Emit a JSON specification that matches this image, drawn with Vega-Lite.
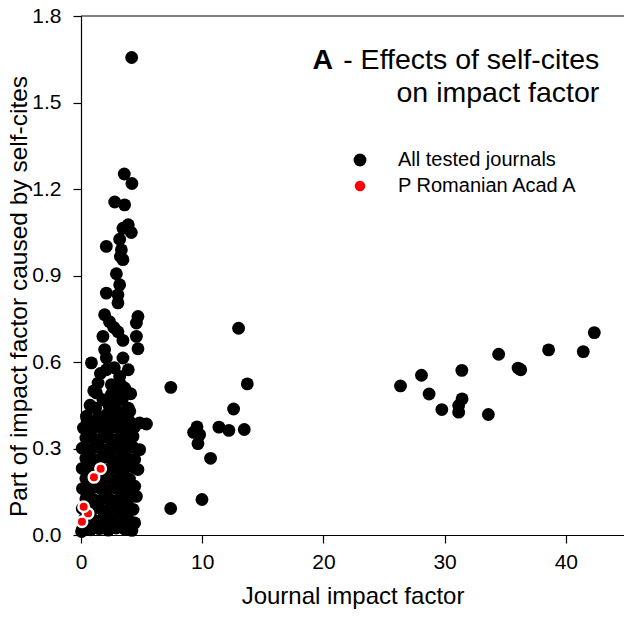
{
  "$schema": "https://vega.github.io/schema/vega-lite/v6.json",
  "autosize": {"type": "none"},
  "width": 543,
  "height": 519,
  "padding": {"left": 81, "top": 16, "right": 0, "bottom": 82},
  "background": "white",
  "config": {
    "view": {"stroke": null},
    "font": "Liberation Sans",
    "axis": {
      "grid": false,
      "domainColor": "black",
      "domainWidth": 1.2,
      "tickColor": "black",
      "tickWidth": 1.2,
      "tickSize": 8,
      "labelFont": "Liberation Sans",
      "labelFontSize": 21,
      "labelColor": "black",
      "labelFlush": false,
      "titleFont": "Liberation Sans",
      "titleFontSize": 24,
      "titleFontWeight": "normal",
      "titleColor": "black"
    },
    "legend": {
      "labelFont": "Liberation Sans",
      "labelFontSize": 20,
      "labelColor": "black",
      "labelLimit": 0,
      "symbolType": "circle",
      "symbolStrokeWidth": 0,
      "labelOffset": 28,
      "rowPadding": 6
    }
  },
  "datasets": {
    "journals": [
      {"IF": 4.18, "SC": 1.656, "group": "All tested journals"},
      {"IF": 3.57, "SC": 1.252, "group": "All tested journals"},
      {"IF": 4.2, "SC": 1.219, "group": "All tested journals"},
      {"IF": 2.78, "SC": 1.155, "group": "All tested journals"},
      {"IF": 3.6, "SC": 1.145, "group": "All tested journals"},
      {"IF": 3.9, "SC": 1.076, "group": "All tested journals"},
      {"IF": 3.46, "SC": 1.064, "group": "All tested journals"},
      {"IF": 4.15, "SC": 1.049, "group": "All tested journals"},
      {"IF": 3.19, "SC": 1.026, "group": "All tested journals"},
      {"IF": 2.09, "SC": 1.001, "group": "All tested journals"},
      {"IF": 3.33, "SC": 0.989, "group": "All tested journals"},
      {"IF": 3.25, "SC": 0.966, "group": "All tested journals"},
      {"IF": 3.46, "SC": 0.955, "group": "All tested journals"},
      {"IF": 2.92, "SC": 0.906, "group": "All tested journals"},
      {"IF": 3.19, "SC": 0.868, "group": "All tested journals"},
      {"IF": 2.09, "SC": 0.839, "group": "All tested journals"},
      {"IF": 3.05, "SC": 0.833, "group": "All tested journals"},
      {"IF": 3.05, "SC": 0.805, "group": "All tested journals"},
      {"IF": 1.95, "SC": 0.764, "group": "All tested journals"},
      {"IF": 2.35, "SC": 0.74, "group": "All tested journals"},
      {"IF": 2.7, "SC": 0.72, "group": "All tested journals"},
      {"IF": 4.7, "SC": 0.758, "group": "All tested journals"},
      {"IF": 4.57, "SC": 0.735, "group": "All tested journals"},
      {"IF": 3.05, "SC": 0.705, "group": "All tested journals"},
      {"IF": 4.57, "SC": 0.689, "group": "All tested journals"},
      {"IF": 1.81, "SC": 0.689, "group": "All tested journals"},
      {"IF": 3.46, "SC": 0.675, "group": "All tested journals"},
      {"IF": 4.7, "SC": 0.646, "group": "All tested journals"},
      {"IF": 1.95, "SC": 0.643, "group": "All tested journals"},
      {"IF": 0.86, "SC": 0.597, "group": "All tested journals"},
      {"IF": 2.09, "SC": 0.614, "group": "All tested journals"},
      {"IF": 3.46, "SC": 0.614, "group": "All tested journals"},
      {"IF": 2.09, "SC": 0.573, "group": "All tested journals"},
      {"IF": 3.9, "SC": 0.573, "group": "All tested journals"},
      {"IF": 3.19, "SC": 0.55, "group": "All tested journals"},
      {"IF": 1.41, "SC": 0.527, "group": "All tested journals"},
      {"IF": 2.5, "SC": 0.521, "group": "All tested journals"},
      {"IF": 3.6, "SC": 0.51, "group": "All tested journals"},
      {"IF": 1.27, "SC": 0.493, "group": "All tested journals"},
      {"IF": 2.5, "SC": 0.487, "group": "All tested journals"},
      {"IF": 1.6, "SC": 0.56, "group": "All tested journals"},
      {"IF": 2.75, "SC": 0.58, "group": "All tested journals"},
      {"IF": 2.85, "SC": 0.5, "group": "All tested journals"},
      {"IF": 3.3, "SC": 0.52, "group": "All tested journals"},
      {"IF": 4.1, "SC": 0.49, "group": "All tested journals"},
      {"IF": 1.05, "SC": 0.5, "group": "All tested journals"},
      {"IF": 0.75, "SC": 0.45, "group": "All tested journals"},
      {"IF": 1.2, "SC": 0.44, "group": "All tested journals"},
      {"IF": 1.81, "SC": 0.469, "group": "All tested journals"},
      {"IF": 2.3, "SC": 0.45, "group": "All tested journals"},
      {"IF": 2.9, "SC": 0.46, "group": "All tested journals"},
      {"IF": 3.4, "SC": 0.47, "group": "All tested journals"},
      {"IF": 3.9, "SC": 0.44, "group": "All tested journals"},
      {"IF": 4.02, "SC": 0.429, "group": "All tested journals"},
      {"IF": 5.4, "SC": 0.385, "group": "All tested journals"},
      {"IF": 4.84, "SC": 0.389, "group": "All tested journals"},
      {"IF": 2.92, "SC": 0.394, "group": "All tested journals"},
      {"IF": 0.45, "SC": 0.412, "group": "All tested journals"},
      {"IF": 3.0, "SC": 0.43, "group": "All tested journals"},
      {"IF": 2.2, "SC": 0.42, "group": "All tested journals"},
      {"IF": 1.5, "SC": 0.41, "group": "All tested journals"},
      {"IF": 3.6, "SC": 0.42, "group": "All tested journals"},
      {"IF": 4.29, "SC": 0.342, "group": "All tested journals"},
      {"IF": 4.84, "SC": 0.296, "group": "All tested journals"},
      {"IF": 4.43, "SC": 0.262, "group": "All tested journals"},
      {"IF": 4.7, "SC": 0.227, "group": "All tested journals"},
      {"IF": 4.43, "SC": 0.169, "group": "All tested journals"},
      {"IF": 4.57, "SC": 0.134, "group": "All tested journals"},
      {"IF": 3.87, "SC": 0.088, "group": "All tested journals"},
      {"IF": 4.43, "SC": 0.042, "group": "All tested journals"},
      {"IF": 3.19, "SC": 0.03, "group": "All tested journals"},
      {"IF": 1.81, "SC": 0.025, "group": "All tested journals"},
      {"IF": 0.45, "SC": 0.019, "group": "All tested journals"},
      {"IF": 0.05, "SC": 0.012, "group": "All tested journals"},
      {"IF": 0.12, "SC": 0.02, "group": "All tested journals"},
      {"IF": 0.8, "SC": 0.018, "group": "All tested journals"},
      {"IF": 1.5, "SC": 0.022, "group": "All tested journals"},
      {"IF": 2.25, "SC": 0.017, "group": "All tested journals"},
      {"IF": 2.9, "SC": 0.024, "group": "All tested journals"},
      {"IF": 3.6, "SC": 0.021, "group": "All tested journals"},
      {"IF": 4.2, "SC": 0.016, "group": "All tested journals"},
      {"IF": 0.3, "SC": 0.057, "group": "All tested journals"},
      {"IF": 1.05, "SC": 0.052, "group": "All tested journals"},
      {"IF": 1.8, "SC": 0.058, "group": "All tested journals"},
      {"IF": 2.5, "SC": 0.053, "group": "All tested journals"},
      {"IF": 3.2, "SC": 0.056, "group": "All tested journals"},
      {"IF": 3.95, "SC": 0.051, "group": "All tested journals"},
      {"IF": 0.1, "SC": 0.092, "group": "All tested journals"},
      {"IF": 0.85, "SC": 0.088, "group": "All tested journals"},
      {"IF": 1.5, "SC": 0.094, "group": "All tested journals"},
      {"IF": 2.2, "SC": 0.087, "group": "All tested journals"},
      {"IF": 2.95, "SC": 0.091, "group": "All tested journals"},
      {"IF": 3.5, "SC": 0.095, "group": "All tested journals"},
      {"IF": 4.3, "SC": 0.089, "group": "All tested journals"},
      {"IF": 0.4, "SC": 0.126, "group": "All tested journals"},
      {"IF": 1.1, "SC": 0.122, "group": "All tested journals"},
      {"IF": 1.85, "SC": 0.128, "group": "All tested journals"},
      {"IF": 2.5, "SC": 0.121, "group": "All tested journals"},
      {"IF": 3.2, "SC": 0.127, "group": "All tested journals"},
      {"IF": 3.9, "SC": 0.124, "group": "All tested journals"},
      {"IF": 0.12, "SC": 0.161, "group": "All tested journals"},
      {"IF": 0.8, "SC": 0.158, "group": "All tested journals"},
      {"IF": 1.55, "SC": 0.163, "group": "All tested journals"},
      {"IF": 2.2, "SC": 0.157, "group": "All tested journals"},
      {"IF": 2.9, "SC": 0.162, "group": "All tested journals"},
      {"IF": 3.6, "SC": 0.159, "group": "All tested journals"},
      {"IF": 4.25, "SC": 0.164, "group": "All tested journals"},
      {"IF": 0.4, "SC": 0.196, "group": "All tested journals"},
      {"IF": 1.15, "SC": 0.193, "group": "All tested journals"},
      {"IF": 1.9, "SC": 0.198, "group": "All tested journals"},
      {"IF": 2.6, "SC": 0.192, "group": "All tested journals"},
      {"IF": 3.3, "SC": 0.197, "group": "All tested journals"},
      {"IF": 4.0, "SC": 0.194, "group": "All tested journals"},
      {"IF": 0.1, "SC": 0.231, "group": "All tested journals"},
      {"IF": 0.8, "SC": 0.228, "group": "All tested journals"},
      {"IF": 1.5, "SC": 0.233, "group": "All tested journals"},
      {"IF": 2.2, "SC": 0.227, "group": "All tested journals"},
      {"IF": 2.9, "SC": 0.232, "group": "All tested journals"},
      {"IF": 3.6, "SC": 0.229, "group": "All tested journals"},
      {"IF": 4.35, "SC": 0.234, "group": "All tested journals"},
      {"IF": 0.4, "SC": 0.266, "group": "All tested journals"},
      {"IF": 1.1, "SC": 0.262, "group": "All tested journals"},
      {"IF": 1.8, "SC": 0.268, "group": "All tested journals"},
      {"IF": 2.5, "SC": 0.263, "group": "All tested journals"},
      {"IF": 3.25, "SC": 0.267, "group": "All tested journals"},
      {"IF": 3.9, "SC": 0.264, "group": "All tested journals"},
      {"IF": 0.1, "SC": 0.301, "group": "All tested journals"},
      {"IF": 0.8, "SC": 0.297, "group": "All tested journals"},
      {"IF": 1.5, "SC": 0.303, "group": "All tested journals"},
      {"IF": 2.2, "SC": 0.298, "group": "All tested journals"},
      {"IF": 2.85, "SC": 0.302, "group": "All tested journals"},
      {"IF": 3.6, "SC": 0.299, "group": "All tested journals"},
      {"IF": 4.3, "SC": 0.304, "group": "All tested journals"},
      {"IF": 0.4, "SC": 0.336, "group": "All tested journals"},
      {"IF": 1.1, "SC": 0.333, "group": "All tested journals"},
      {"IF": 1.8, "SC": 0.338, "group": "All tested journals"},
      {"IF": 2.5, "SC": 0.332, "group": "All tested journals"},
      {"IF": 3.2, "SC": 0.337, "group": "All tested journals"},
      {"IF": 3.9, "SC": 0.334, "group": "All tested journals"},
      {"IF": 0.2, "SC": 0.371, "group": "All tested journals"},
      {"IF": 0.9, "SC": 0.368, "group": "All tested journals"},
      {"IF": 1.6, "SC": 0.373, "group": "All tested journals"},
      {"IF": 2.3, "SC": 0.367, "group": "All tested journals"},
      {"IF": 3.0, "SC": 0.372, "group": "All tested journals"},
      {"IF": 3.7, "SC": 0.369, "group": "All tested journals"},
      {"IF": 4.4, "SC": 0.374, "group": "All tested journals"},
      {"IF": 0.5, "SC": 0.402, "group": "All tested journals"},
      {"IF": 1.2, "SC": 0.398, "group": "All tested journals"},
      {"IF": 1.9, "SC": 0.404, "group": "All tested journals"},
      {"IF": 2.5, "SC": 0.399, "group": "All tested journals"},
      {"IF": 3.3, "SC": 0.403, "group": "All tested journals"},
      {"IF": 3.95, "SC": 0.397, "group": "All tested journals"},
      {"IF": 7.41, "SC": 0.512, "group": "All tested journals"},
      {"IF": 7.4, "SC": 0.092, "group": "All tested journals"},
      {"IF": 13.0, "SC": 0.717, "group": "All tested journals"},
      {"IF": 13.72, "SC": 0.524, "group": "All tested journals"},
      {"IF": 12.59, "SC": 0.437, "group": "All tested journals"},
      {"IF": 11.38, "SC": 0.374, "group": "All tested journals"},
      {"IF": 12.2, "SC": 0.363, "group": "All tested journals"},
      {"IF": 13.47, "SC": 0.366, "group": "All tested journals"},
      {"IF": 9.57, "SC": 0.375, "group": "All tested journals"},
      {"IF": 9.29, "SC": 0.356, "group": "All tested journals"},
      {"IF": 9.79, "SC": 0.348, "group": "All tested journals"},
      {"IF": 9.65, "SC": 0.317, "group": "All tested journals"},
      {"IF": 10.69, "SC": 0.266, "group": "All tested journals"},
      {"IF": 9.98, "SC": 0.123, "group": "All tested journals"},
      {"IF": 26.36, "SC": 0.517, "group": "All tested journals"},
      {"IF": 28.09, "SC": 0.554, "group": "All tested journals"},
      {"IF": 28.72, "SC": 0.489, "group": "All tested journals"},
      {"IF": 29.77, "SC": 0.435, "group": "All tested journals"},
      {"IF": 31.42, "SC": 0.571, "group": "All tested journals"},
      {"IF": 31.44, "SC": 0.472, "group": "All tested journals"},
      {"IF": 31.16, "SC": 0.449, "group": "All tested journals"},
      {"IF": 31.16, "SC": 0.426, "group": "All tested journals"},
      {"IF": 33.61, "SC": 0.418, "group": "All tested journals"},
      {"IF": 34.46, "SC": 0.627, "group": "All tested journals"},
      {"IF": 36.06, "SC": 0.579, "group": "All tested journals"},
      {"IF": 36.28, "SC": 0.573, "group": "All tested journals"},
      {"IF": 38.58, "SC": 0.642, "group": "All tested journals"},
      {"IF": 41.44, "SC": 0.636, "group": "All tested journals"},
      {"IF": 42.35, "SC": 0.702, "group": "All tested journals"},
      {"IF": 1.62, "SC": 0.23, "group": "P Romanian Acad A"},
      {"IF": 1.07, "SC": 0.2, "group": "P Romanian Acad A"},
      {"IF": 0.58, "SC": 0.075, "group": "P Romanian Acad A"},
      {"IF": 0.22, "SC": 0.098, "group": "P Romanian Acad A"},
      {"IF": 0.08, "SC": 0.046, "group": "P Romanian Acad A"}
    ],
    "titles": [
      {"part": "bold", "label": "A"},
      {"part": "line1", "label": "- Effects of self-cites"},
      {"part": "line2", "label": "on impact factor"}
    ]
  },
  "layer": [
    {
      "data": {"name": "journals"},
      "transform": [{"filter": "datum.group === 'All tested journals'"}],
      "mark": {"type": "circle", "opacity": 1, "clip": false},
      "encoding": {
        "x": {
          "field": "IF", "type": "quantitative",
          "scale": {"domain": [0, 44.8], "nice": false, "zero": false},
          "axis": {"values": [0, 10, 20, 30, 40], "title": "Journal impact factor", "labelPadding": 8, "titlePadding": 12}
        },
        "y": {
          "field": "SC", "type": "quantitative",
          "scale": {"domain": [0, 1.8], "nice": false},
          "axis": {"values": [0, 0.3, 0.6, 0.9, 1.2, 1.5, 1.8], "format": ".1f", "title": "Part of impact factor caused by self-cites", "labelPadding": 12, "titlePadding": 0, "titleFontSize": 24.5, "titleY": 280}
        },
        "color": {
          "field": "group", "type": "nominal",
          "scale": {"domain": ["All tested journals", "P Romanian Acad A"], "range": ["#000000", "#ff0000"]},
          "legend": {"title": null, "orient": "none", "legendX": 269, "legendY": 134}
        },
        "size": {
          "field": "group", "type": "nominal",
          "scale": {"domain": ["All tested journals", "P Romanian Acad A"], "range": [165, 110]},
          "legend": {"title": null, "orient": "none", "legendX": 269, "legendY": 134}
        }
      }
    },
    {
      "data": {"name": "journals"},
      "transform": [{"filter": "datum.group === 'P Romanian Acad A'"}],
      "mark": {"type": "circle", "opacity": 1, "stroke": "white", "strokeWidth": 2.5, "clip": false},
      "encoding": {
        "x": {"field": "IF", "type": "quantitative"},
        "y": {"field": "SC", "type": "quantitative"},
        "color": {"field": "group", "type": "nominal"},
        "size": {"field": "group", "type": "nominal"}
      }
    },
    {
      "data": {"values": [{"edge": "top"}]},
      "mark": {"type": "rule", "color": "black", "strokeWidth": 1.2},
      "encoding": {"y": {"datum": 1.8}}
    },
    {
      "data": {"name": "titles"},
      "transform": [{"filter": "datum.part === 'bold'"}],
      "mark": {"type": "text", "fontWeight": "bold", "fontSize": 28.5, "align": "left", "baseline": "middle", "font": "Liberation Sans", "color": "black"},
      "encoding": {"text": {"field": "label"}, "x": {"datum": 19.1}, "y": {"datum": 1.648}}
    },
    {
      "data": {"name": "titles"},
      "transform": [{"filter": "datum.part === 'line1'"}],
      "mark": {"type": "text", "fontSize": 28.5, "align": "right", "baseline": "middle", "font": "Liberation Sans", "color": "black"},
      "encoding": {"text": {"field": "label"}, "x": {"datum": 42.76}, "y": {"datum": 1.648}}
    },
    {
      "data": {"name": "titles"},
      "transform": [{"filter": "datum.part === 'line2'"}],
      "mark": {"type": "text", "fontSize": 28.5, "align": "right", "baseline": "middle", "font": "Liberation Sans", "color": "black"},
      "encoding": {"text": {"field": "label"}, "x": {"datum": 42.76}, "y": {"datum": 1.533}}
    }
  ]
}
